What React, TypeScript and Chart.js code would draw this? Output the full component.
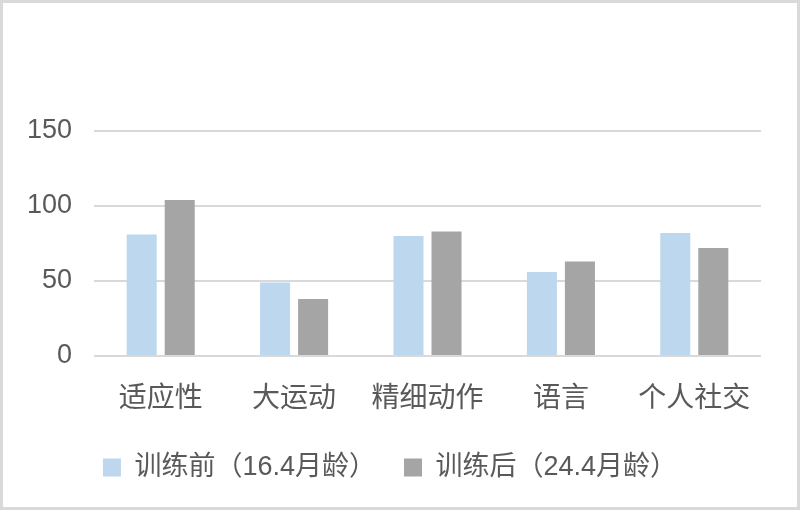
import React, { useEffect, useRef } from "react";
import { Chart, registerables } from "chart.js";

Chart.register(...registerables);

const categories = ["适应性", "大运动", "精细动作", "语言", "个人社交"];
const seriesBeforeLabel = "训练前（16.4月龄）";
const seriesAfterLabel = "训练后（24.4月龄）";
const seriesBefore = [81, 49, 80, 56, 82];
const seriesAfter = [104, 38, 83, 63, 72];
const yMin = 0;
const yMax = 150;
const yStep = 50;

const FONT = "'Liberation Sans', 'Noto Sans CJK SC', sans-serif";
const TEXT = "#595959";

export default function App() {
  const ref = useRef<HTMLCanvasElement | null>(null);

  useEffect(() => {
    if (!ref.current) return;
    const chart = new Chart(ref.current, {
      type: "bar",
      data: {
        labels: categories,
        datasets: [
          {
            label: seriesBeforeLabel,
            data: seriesBefore,
            backgroundColor: "#bdd7ee",
            borderWidth: 0,
            categoryPercentage: 0.57,
            barPercentage: 0.79,
          },
          {
            label: seriesAfterLabel,
            data: seriesAfter,
            backgroundColor: "#a5a5a5",
            borderWidth: 0,
            categoryPercentage: 0.57,
            barPercentage: 0.79,
          },
        ],
      },
      options: {
        responsive: false,
        animation: false,
        devicePixelRatio: 1,
        layout: { padding: { left: 16, right: 36, top: 128, bottom: 16 } },
        plugins: {
          title: { display: false },
          tooltip: { enabled: false },
          legend: {
            position: "bottom",
            labels: {
              boxWidth: 18,
              boxHeight: 18,
              padding: 28,
              color: TEXT,
              font: { family: FONT, size: 27 },
            },
          },
        },
        scales: {
          x: {
            grid: { display: false },
            border: { display: false },
            ticks: {
              color: TEXT,
              padding: 18,
              maxRotation: 0,
              font: { family: FONT, size: 28 },
            },
            afterFit: (s: any) => {
              s.height = 70;
            },
          },
          y: {
            min: yMin,
            max: yMax,
            border: { display: false },
            grid: { color: "#d9d9d9", lineWidth: 2, drawTicks: false },
            ticks: {
              stepSize: yStep,
              color: TEXT,
              padding: 22,
              font: { family: FONT, size: 27 },
            },
            afterFit: (s: any) => {
              s.width = 75;
            },
          },
        },
      },
    });
    return () => chart.destroy();
  }, []);

  return (
    <div
      style={{
        position: "absolute",
        left: 0,
        top: 0,
        width: 800,
        height: 510,
        boxSizing: "border-box",
        border: "3px solid #d9d9d9",
        background: "#ffffff",
      }}
    >
      <canvas ref={ref} width={794} height={504} style={{ display: "block" }} />
    </div>
  );
}
